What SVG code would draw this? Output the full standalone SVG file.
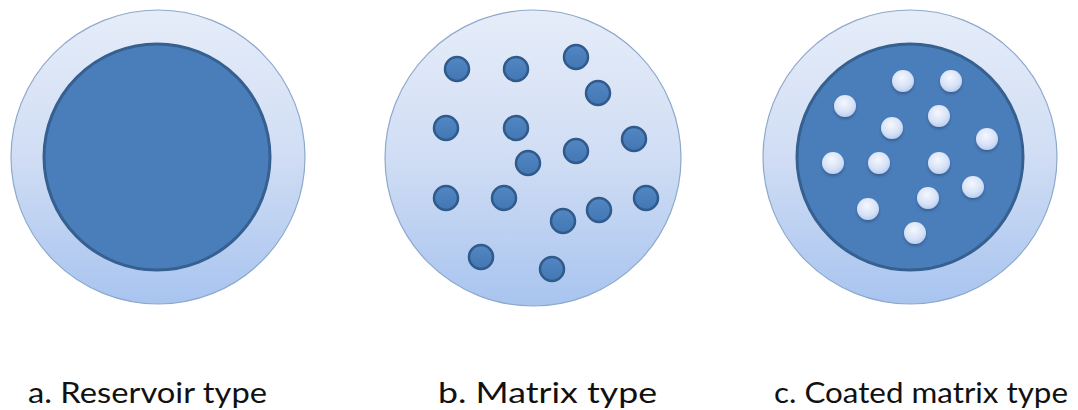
<svg xmlns="http://www.w3.org/2000/svg" width="1078" height="410" viewBox="0 0 1078 410">
<style>
.outer{fill:url(#gOuter);stroke:#8ea9cc;stroke-width:1.2}
.core{fill:#4a7ebb;stroke:#36608f;stroke-width:3}
.dd{fill:url(#gDark);stroke:#2f5a8a;stroke-width:2.5}
.ld{fill:url(#gLight);stroke:none;filter:url(#sh)}
.lbl{font-family:Lato,"Open Sans","Liberation Sans",sans-serif;font-size:28px;fill:#111}
</style>
<defs>
<linearGradient id="gOuter" x1="0" y1="0" x2="0" y2="1">
<stop offset="0" stop-color="#e6edf9"/>
<stop offset="0.5" stop-color="#d0ddf4"/>
<stop offset="1" stop-color="#a8c4ef"/>
</linearGradient>
<linearGradient id="gDark" x1="0" y1="0" x2="0" y2="1">
<stop offset="0" stop-color="#5287c4"/>
<stop offset="1" stop-color="#4377b4"/>
</linearGradient>
<radialGradient id="gLight" cx="0.45" cy="0.35" r="0.7">
<stop offset="0" stop-color="#f4f7fd"/>
<stop offset="0.6" stop-color="#d8e3f7"/>
<stop offset="1" stop-color="#b4caee"/>
</radialGradient>
<filter id="sh" x="-50%" y="-50%" width="200%" height="200%">
<feDropShadow dx="0" dy="2" stdDeviation="1.5" flood-color="#1d3d66" flood-opacity="0.5"/>
</filter>
</defs>

<g id="reservoir">
<circle class="outer" cx="158" cy="157" r="147"/>
<circle class="core" cx="157" cy="157" r="113"/>
</g>

<g id="matrix">
<circle class="outer" cx="533" cy="158" r="148"/>
<circle class="dd" cx="457" cy="69" r="12"/>
<circle class="dd" cx="516" cy="69" r="12"/>
<circle class="dd" cx="576" cy="57" r="12"/>
<circle class="dd" cx="598" cy="93" r="12"/>
<circle class="dd" cx="446" cy="128" r="12"/>
<circle class="dd" cx="516" cy="128" r="12"/>
<circle class="dd" cx="634" cy="139" r="12"/>
<circle class="dd" cx="576" cy="151" r="12"/>
<circle class="dd" cx="528" cy="163" r="12"/>
<circle class="dd" cx="446" cy="198" r="12"/>
<circle class="dd" cx="504" cy="198" r="12"/>
<circle class="dd" cx="646" cy="198" r="12"/>
<circle class="dd" cx="599" cy="210" r="12"/>
<circle class="dd" cx="563" cy="221" r="12"/>
<circle class="dd" cx="481" cy="257" r="12"/>
<circle class="dd" cx="552" cy="269" r="12"/>
</g>

<g id="coated">
<circle class="outer" cx="910" cy="157" r="147"/>
<circle class="core" cx="910" cy="157" r="113"/>
<circle class="ld" cx="903" cy="81" r="11"/>
<circle class="ld" cx="951" cy="81" r="11"/>
<circle class="ld" cx="845" cy="106" r="11"/>
<circle class="ld" cx="939" cy="116" r="11"/>
<circle class="ld" cx="892" cy="128" r="11"/>
<circle class="ld" cx="987" cy="139" r="11"/>
<circle class="ld" cx="833" cy="163" r="11"/>
<circle class="ld" cx="879" cy="163" r="11"/>
<circle class="ld" cx="939" cy="163" r="11"/>
<circle class="ld" cx="973" cy="187" r="11"/>
<circle class="ld" cx="928" cy="198" r="11"/>
<circle class="ld" cx="868" cy="209" r="11"/>
<circle class="ld" cx="915" cy="233" r="11"/>
</g>

<g id="connectors"/>

<g id="labels">
<text class="lbl" x="28" y="403" textLength="239" lengthAdjust="spacingAndGlyphs">a. Reservoir type</text>
<text class="lbl" x="438" y="403" textLength="219" lengthAdjust="spacingAndGlyphs">b. Matrix type</text>
<text class="lbl" x="774" y="403" textLength="294" lengthAdjust="spacingAndGlyphs">c. Coated matrix type</text>
</g>
</svg>
